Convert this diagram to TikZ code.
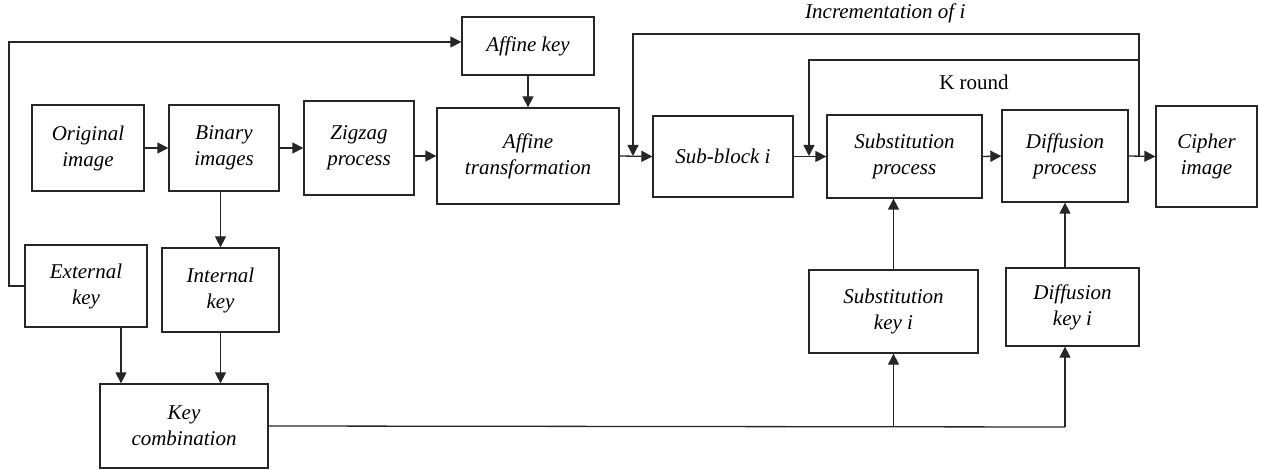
\documentclass[tikz,border=0pt]{standalone}
\usepackage{fontspec}
\setmainfont{Liberation Serif}
\usetikzlibrary{arrows.meta}
\begin{document}
\begin{tikzpicture}[x=1pt,y=-1pt,
  box/.style={draw=black!85,line width=1.3pt,fill=white,align=center,inner sep=0pt,
    font=\fontsize{21}{26}\selectfont\itshape},
  ln/.style={draw=black!85,line width=1.3pt},
  arr/.style={ln,-{Triangle[length=11pt,width=11pt]}}]
\useasboundingbox (0,0) rectangle (1261,470);
% boxes
\node[box,minimum width=112pt,minimum height=86pt] (orig) at (88,148) {Original\\image};
\node[box,minimum width=110pt,minimum height=86pt] (bin) at (224,148) {Binary\\images};
\node[box,minimum width=110pt,minimum height=94pt] (zig) at (359,148) {Zigzag\\process};
\node[box,minimum width=182pt,minimum height=96pt] (aff) at (528,156) {Affine\\transformation};
\node[box,minimum width=132pt,minimum height=58pt] (akey) at (528,46) {Affine key};
\node[box,minimum width=140pt,minimum height=81pt] (sub) at (723,156.5) {Sub-block i};
\node[box,minimum width=155pt,minimum height=83pt] (subst) at (904.5,156.5) {Substitution\\process};
\node[box,minimum width=126pt,minimum height=92pt] (dif) at (1065,156) {Diffusion\\process};
\node[box,minimum width=101pt,minimum height=101pt] (ciph) at (1206.5,156.5) {Cipher\\image};
\node[box,minimum width=169pt,minimum height=83pt] (sk) at (893.5,311.5) {Substitution\\key i};
\node[box,minimum width=133pt,minimum height=78pt] (dk) at (1072.5,307) {Diffusion\\key i};
\node[box,minimum width=122pt,minimum height=82pt] (ext) at (86,286) {External\\key};
\node[box,minimum width=117pt,minimum height=84pt] (int) at (220.5,290) {Internal\\key};
\node[box,minimum width=168pt,minimum height=84pt] (kc) at (184,426) {Key\\combination};
% labels
\node[font=\fontsize{21}{26}\selectfont\itshape,anchor=west,inner sep=0pt] (inc) at (805,13) {Incrementation of i};
\node[font=\fontsize{21}{26}\selectfont,inner sep=0pt] (kr) at (974,82) {K round};
% coordinates
\coordinate (tl) at (9,42);
\coordinate (j2) at (1065,427);
\coordinate (lp) at (1139,156);
\coordinate (lk) at (1139,60);
\coordinate (top1) at (633,34);
\coordinate (top2) at (809,60);
% main chain
\draw[arr] (orig) -- (bin);
\draw[arr] (bin) -- (bin -| zig.west);
\draw[arr] (zig.east |- aff.west) -- (aff.west);
\draw[arr] (akey) -- (aff);
\draw[arr] (aff.east) -- (sub.west);
\draw[arr] (sub.east) -- (subst.west);
\draw[arr] (subst.east) -- (dif.west);
\draw[arr] (dif.east) -- (ciph.west);
% keys
\draw[arr] (ext.west) -| (tl) -- (tl -| akey.west);
\draw[arr] (int.north |- bin.south) -- (int.north);
\draw[arr] ([xshift=35pt]ext.south) -- ([xshift=35pt]ext.south |- kc.north);
\draw[arr] (int.south) -- (int.south |- kc.north);
\draw[ln] (kc.east) -- (j2);
\draw[arr] (j2) -- (j2 |- dk.south);
\draw[arr] (sk.south |- j2) -- (sk.south);
\draw[arr] (sk.north) -- (sk.north |- subst.south);
\draw[arr] (dif.south |- dk.north) -- (dif.south);
% loops
\draw[arr] (lp) |- (top1) -- (top1 |- lp);
\draw[arr] (lk) -- (top2) -- (top2 |- lp);
\end{tikzpicture}
\end{document}
